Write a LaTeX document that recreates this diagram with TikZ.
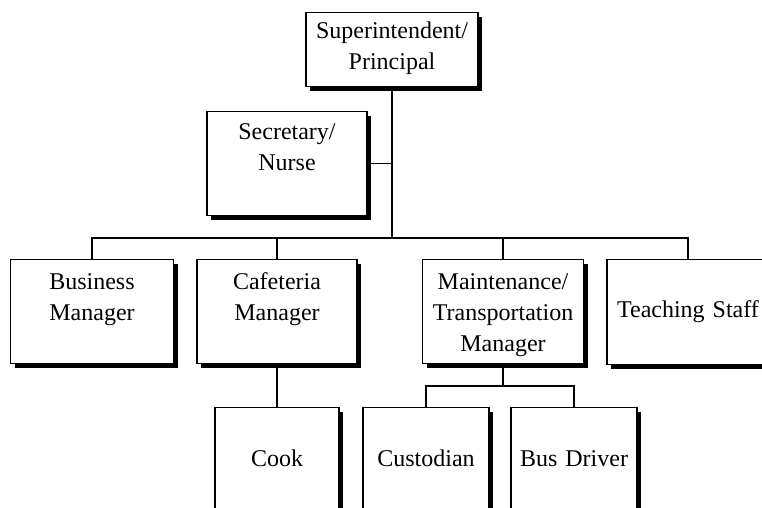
\documentclass[tikz,border=0pt]{standalone}
\usepackage{fontspec}
\setmainfont{Liberation Serif}
\usetikzlibrary{shadows}

\begin{document}
\begin{tikzpicture}[x=1pt, y=-1pt,
  box/.style={draw, rectangle, fill=white, line width=1.2pt, inner sep=0pt,
    align=center, anchor=north, font=\fontsize{24}{31}\selectfont,
    drop shadow={shadow xshift=4pt, shadow yshift=-4pt, fill=black, opacity=1}},
  link/.style={line width=1.1pt}]

\fill[white] (0,0) rectangle (762,508);
\useasboundingbox (0,0) rectangle (762,508);

% Nodes
\node[box, text width=172pt, text height=26pt, text depth=48pt] (super) at (392,12) {Superintendent/\\Principal};
\node[box, text width=160pt, text height=28pt, text depth=76pt] (secretary) at (287,111) {Secretary/\\Nurse};

\node[box, text width=163pt, text height=30pt, text depth=74pt] (business) at (92,259) {Business\\Manager};
\node[box, text width=160pt, text height=30pt, text depth=74pt] (cafeteria) at (277,259) {Cafeteria\\Manager};
\node[box, text width=161pt, text height=30pt, text depth=74pt] (maintenance) at (503,259) {Maintenance/\\Transportation\\Manager};
\node[box, text width=162pt, text height=58pt, text depth=47pt] (teaching) at (688,259) {Teaching Staff};

\node[box, text width=124pt, text height=59pt, text depth=60pt] (cook) at (277,407) {Cook};
\node[box, text width=126pt, text height=59pt, text depth=60pt] (custodian) at (426,407) {Custodian};
\node[box, text width=126pt, text height=59pt, text depth=60pt] (busdriver) at (574,407) {Bus Driver};

% Lines
\coordinate (bus) at (392,238);
\coordinate (fork) at (503,386);

\draw[link] (super.south) -- (bus);
\draw[link] (secretary.east) -- (secretary.east -| bus);
\draw[link] (business.north) |- (bus) -| (teaching.north);
\draw[link] (cafeteria.north) -- (cafeteria.north |- bus);
\draw[link] (maintenance.north) -- (maintenance.north |- bus);

\draw[link] (cafeteria.south) -- (cook.north);
\draw[link] (maintenance.south) -- (fork);
\draw[link] (custodian.north) |- (fork) -| (busdriver.north);

\end{tikzpicture}
\end{document}
